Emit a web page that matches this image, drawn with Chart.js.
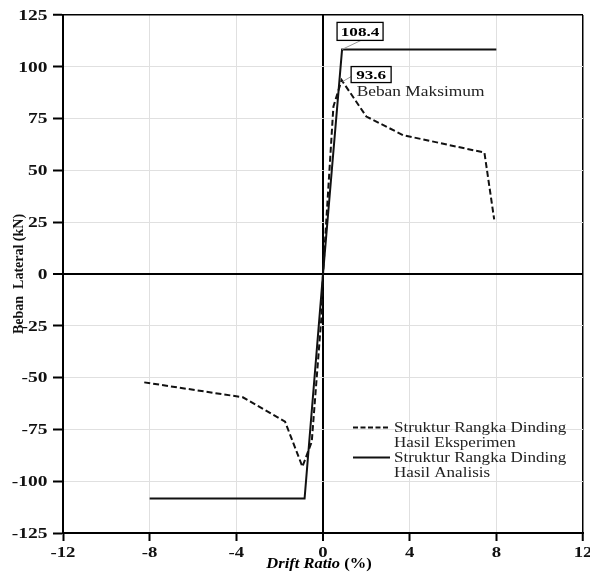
<!DOCTYPE html>
<html>
<head>
<meta charset="utf-8">
<script src="https://cdn.jsdelivr.net/npm/chart.js@4.4.1/dist/chart.umd.min.js"></script>
<style>
  body { margin: 0; background: #fff; }
  canvas { display: block; }
</style>
</head>
<body>
<canvas id="driftChart" width="590" height="573"></canvas>
<script>
// data
const eksperimenX = [-8.25, -3.7, -1.75, -0.95, -0.52, -0.06, 0, 0.48, 0.86, 2.0, 3.7, 7.45, 7.9];
const eksperimenY = [-52.3, -59.5, -71.3, -93, -81, -19, 0, 80.8, 93.6, 76, 67, 58.6, 26.4];
const analisisX = [-8, -0.85, 0, 0.88, 8];
const analisisY = [-108.4, -108.4, 0, 108.4, 108.4];
const xTicks = [-12, -8, -4, 0, 4, 8, 12];
const yTicks = [-125, -100, -75, -50, -25, 0, 25, 50, 75, 100, 125];
const legendLabels = [
    ['Struktur Rangka Dinding', 'Hasil Eksperimen'],
    ['Struktur Rangka Dinding', 'Hasil Analisis']
];

const serif = '"Liberation Serif", "Times New Roman", serif';

function toPoints(xs, ys) {
    return xs.map((x, i) => ({ x: x, y: ys[i] }));
}

// the source image is stretched sideways, so text gets a horizontal scale
function wideText(c, text, x, y, font, sx, align) {
    c.save();
    c.font = font;
    c.textAlign = align;
    c.textBaseline = 'middle';
    c.translate(x, y);
    c.scale(sx, 1);
    c.fillText(text, 0, 0);
    c.restore();
}

const extrasPlugin = {
    id: 'extras',
    afterDatasetsDraw(chart) {
        const c = chart.ctx;
        const xs = chart.scales.x, ys = chart.scales.y;
        const a = chart.chartArea;
        c.save();
        c.fillStyle = '#111';

        // tick labels
        const tickFont = 'bold 15px ' + serif;
        ys.ticks.forEach(t => {
            wideText(c, String(t.value), 47.5, ys.getPixelForValue(t.value) + 1, tickFont, 1.3, 'right');
        });
        xs.ticks.forEach(t => {
            wideText(c, String(t.value), xs.getPixelForValue(t.value), 553, tickFont, 1.25, 'center');
        });

        function box(label, px, py, bx, by, w, h, lx, ly) {
            c.strokeStyle = '#999';
            c.lineWidth = 1;
            c.beginPath();
            c.moveTo(lx, ly);
            c.lineTo(px, py);
            c.stroke();
            c.fillStyle = '#fff';
            c.fillRect(bx, by, w, h);
            c.strokeStyle = '#000';
            c.lineWidth = 1.3;
            c.strokeRect(bx, by, w, h);
            c.fillStyle = '#000';
            wideText(c, label, bx + w / 2, by + h / 2 + 1, 'bold 12.5px ' + serif, 1.37, 'center');
        }

        // 108.4 at yield corner
        const p1x = xs.getPixelForValue(analisisX[3]);
        const p1y = ys.getPixelForValue(analisisY[3]);
        box(analisisY[3].toFixed(1), p1x, p1y, p1x - 5, p1y - 27, 46, 18, p1x + 19, p1y - 9);

        // 93.6 at experimental peak
        const p2x = xs.getPixelForValue(eksperimenX[8]);
        const p2y = ys.getPixelForValue(eksperimenY[8]);
        box(eksperimenY[8].toFixed(1), p2x + 1, p2y + 1.5, p2x + 9.5, p2y - 13.5, 40, 16, p2x + 9.5, p2y - 3.5);
        c.fillStyle = '#222';
        wideText(c, 'Beban Maksimum', p2x + 15, p2y + 12, '15.5px ' + serif, 1.12, 'left');

        // legend
        const sets = chart.data.datasets;
        const lx0 = 353, lx1 = 390, tx = 394;
        const ly = [427.5, 457.5];
        sets.forEach((ds, i) => {
            c.strokeStyle = ds.borderColor;
            c.lineWidth = ds.borderWidth;
            c.setLineDash(ds.borderDash ? [5, 2.5] : []);
            c.beginPath();
            c.moveTo(lx0, ly[i]);
            c.lineTo(lx1, ly[i]);
            c.stroke();
            c.setLineDash([]);
            c.fillStyle = '#222';
            wideText(c, legendLabels[i][0], tx, ly[i], '15.5px ' + serif, 1.1, 'left');
            wideText(c, legendLabels[i][1], tx, ly[i] + 15.5, '15.5px ' + serif, 1.1, 'left');
        });

        // x axis title, italic only on the words
        const t1 = 'Drift Ratio', t2 = ' (%)';
        const f1 = 'italic bold 15px ' + serif, f2 = 'bold 15px ' + serif;
        const sx = 1.1;
        c.font = f1;
        const w1 = c.measureText(t1).width * sx;
        c.font = f2;
        const w2 = c.measureText(t2).width * sx;
        const x0 = (a.left + a.right) / 2 - 4 - (w1 + w2) / 2;
        c.fillStyle = '#000';
        wideText(c, t1, x0, 564, f1, sx, 'left');
        wideText(c, t2, x0 + w1, 564, f2, sx, 'left');
        c.restore();
    }
};

function lineColor(ctx) {
    const v = ctx.tick && ctx.tick.value;
    if (v === 0 || v === 125 || v === 12) return '#000';
    return '#e0e0e0';
}
function lineWidth(ctx) {
    const v = ctx.tick && ctx.tick.value;
    if (v === 0) return 2;
    if (v === 125 || v === 12) return 1.5;
    return 1;
}

new Chart(document.getElementById('driftChart'), {
    type: 'scatter',
    data: {
        datasets: [{
            label: 'Struktur Rangka Dinding Hasil Eksperimen',
            data: toPoints(eksperimenX, eksperimenY),
            showLine: true,
            borderColor: '#111',
            borderWidth: 2,
            borderDash: [6, 3],
            pointRadius: 0,
            tension: 0
        }, {
            label: 'Struktur Rangka Dinding Hasil Analisis',
            data: toPoints(analisisX, analisisY),
            showLine: true,
            borderColor: '#111',
            borderWidth: 2,
            pointRadius: 0,
            tension: 0
        }]
    },
    options: {
        responsive: false,
        devicePixelRatio: 1,
        animation: false,
        layout: {
            padding: { top: 15, right: 7, left: 0, bottom: 0 }
        },
        plugins: {
            legend: { display: false },
            tooltip: { enabled: false }
        },
        scales: {
            x: {
                type: 'linear',
                min: -12,
                max: 12,
                afterBuildTicks: (s) => { s.ticks = xTicks.map(v => ({ value: v })); },
                afterFit: (s) => { s.height = 40; s.paddingLeft = 0; s.paddingRight = 0; },
                grid: {
                    color: lineColor,
                    lineWidth: lineWidth,
                    tickColor: '#000',
                    tickWidth: 2,
                    tickLength: 8
                },
                border: { color: '#000', width: 2 },
                ticks: { display: false }
            },
            y: {
                type: 'linear',
                min: -125,
                max: 125,
                afterBuildTicks: (s) => { s.ticks = yTicks.map(v => ({ value: v })); },
                afterFit: (s) => { s.width = 63; s.paddingTop = 0; s.paddingBottom = 0; },
                grid: {
                    color: lineColor,
                    lineWidth: lineWidth,
                    tickColor: '#000',
                    tickWidth: 2,
                    tickLength: 10
                },
                border: { color: '#000', width: 2 },
                title: {
                    display: true,
                    text: 'Beban  Lateral (kN)',
                    color: '#111',
                    padding: { top: 11, bottom: 0 },
                    font: { family: serif, size: 14, weight: 'bold' }
                },
                ticks: { display: false }
            }
        }
    },
    plugins: [extrasPlugin]
});
</script>
</body>
</html>
